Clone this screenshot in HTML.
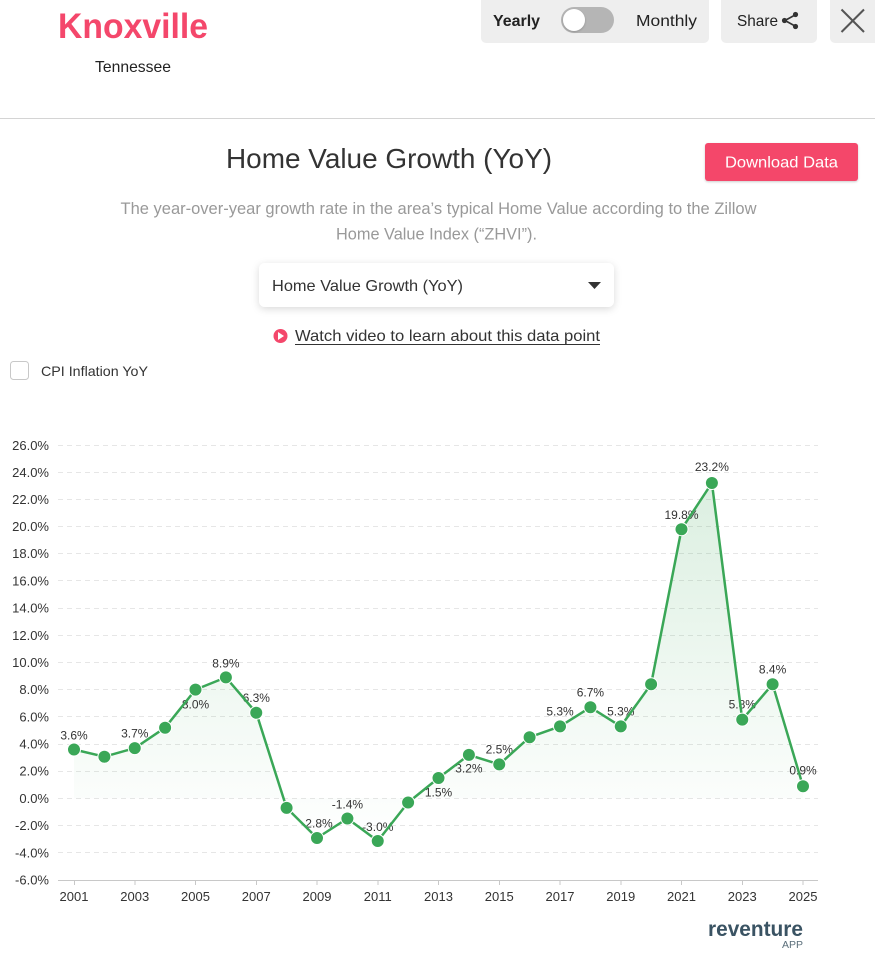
<!DOCTYPE html>
<html>
<head>
<meta charset="utf-8">
<style>
  html,body{margin:0;padding:0;background:#fff;}
  svg{display:block;}
  text{font-family:"Liberation Sans", sans-serif;}
</style>
</head>
<body>
<svg width="875" height="955" viewBox="0 0 875 955" xmlns="http://www.w3.org/2000/svg">
  <defs>
    <filter id="sh" x="-10%" y="-30%" width="120%" height="170%">
      <feDropShadow dx="0" dy="2" stdDeviation="4" flood-color="#000" flood-opacity="0.15"/>
    </filter>
    <filter id="sh2" x="-10%" y="-30%" width="120%" height="170%">
      <feDropShadow dx="0" dy="1" stdDeviation="1" flood-color="#000" flood-opacity="0.2"/>
    </filter>
    <linearGradient id="ag" gradientUnits="userSpaceOnUse" x1="0" y1="483" x2="0" y2="840">
      <stop offset="0" stop-color="#3aa757" stop-opacity="0.18"/>
      <stop offset="1" stop-color="#3aa757" stop-opacity="0.0"/>
    </linearGradient>
  </defs>

  <!-- Header -->
  <text x="58" y="38" font-size="35" font-weight="bold" fill="#f4476b" textLength="150" lengthAdjust="spacingAndGlyphs">Knoxville</text>
  <text x="95" y="72" font-size="16" fill="#222" textLength="76" lengthAdjust="spacingAndGlyphs">Tennessee</text>

  <!-- toggle -->
  <rect x="481" y="-6" width="228" height="49" rx="5" fill="#eeeeee"/>
  <text x="493" y="26" font-size="16" font-weight="bold" fill="#222" textLength="47" lengthAdjust="spacingAndGlyphs">Yearly</text>
  <rect x="561" y="7" width="53" height="26" rx="13" fill="#b5b5b5"/>
  <circle cx="574" cy="20" r="11" fill="#fff" filter="url(#sh2)"/>
  <text x="636" y="26" font-size="16" fill="#222" textLength="61" lengthAdjust="spacingAndGlyphs">Monthly</text>

  <!-- share -->
  <rect x="721" y="-6" width="96" height="49" rx="5" fill="#eeeeee"/>
  <text x="737" y="26" font-size="16" fill="#222" textLength="41" lengthAdjust="spacingAndGlyphs">Share</text>
  <g fill="#333" stroke="#333" stroke-width="1.6">
    <line x1="795" y1="15" x2="785" y2="20.5"/>
    <line x1="795" y1="26" x2="785" y2="20.5"/>
    <circle cx="795.5" cy="14.5" r="2.6" stroke="none"/>
    <circle cx="784.5" cy="20.5" r="2.6" stroke="none"/>
    <circle cx="795.5" cy="26.5" r="2.6" stroke="none"/>
  </g>

  <!-- close -->
  <rect x="830" y="-6" width="60" height="49" rx="5" fill="#eeeeee"/>
  <line x1="841.5" y1="9.5" x2="864" y2="32" stroke="#555" stroke-width="2"/>
  <line x1="864" y1="9.5" x2="841.5" y2="32" stroke="#555" stroke-width="2"/>

  <line x1="0" y1="118.5" x2="875" y2="118.5" stroke="#d4d4d4" stroke-width="1"/>

  <!-- Title -->
  <text x="226" y="168" font-size="28" fill="#333" textLength="326" lengthAdjust="spacingAndGlyphs">Home Value Growth (YoY)</text>

  <rect x="705" y="143" width="153" height="38" rx="3" fill="#f4476b" filter="url(#sh2)"/>
  <text x="725" y="167.5" font-size="16" fill="#fff" textLength="113" lengthAdjust="spacingAndGlyphs">Download Data</text>

  <text x="120.5" y="214" font-size="16.5" fill="#999" textLength="636" lengthAdjust="spacingAndGlyphs">The year-over-year growth rate in the area’s typical Home Value according to the Zillow</text>
  <text x="336" y="239.5" font-size="16.5" fill="#999" textLength="201" lengthAdjust="spacingAndGlyphs">Home Value Index (“ZHVI”).</text>

  <!-- dropdown -->
  <rect x="259" y="263" width="355" height="44" rx="6" fill="#fff" filter="url(#sh)"/>
  <text x="272" y="291" font-size="16" fill="#333" textLength="191" lengthAdjust="spacingAndGlyphs">Home Value Growth (YoY)</text>
  <polygon points="588,282 601,282 594.5,289" fill="#333"/>

  <!-- watch video -->
  <circle cx="280.5" cy="336" r="7" fill="#f4476b"/>
  <polygon points="278,332 278,340 284,336" fill="#fff"/>
  <text x="295" y="341" font-size="16" fill="#333" textLength="305" lengthAdjust="spacingAndGlyphs">Watch video to learn about this data point</text>
  <line x1="295" y1="344.5" x2="600" y2="344.5" stroke="#333" stroke-width="1"/>

  <!-- checkbox -->
  <rect x="10.5" y="361.5" width="18" height="18" rx="3" fill="#fff" stroke="#c8c8c8" stroke-width="1"/>
  <text x="41" y="376" font-size="14" fill="#333" textLength="107" lengthAdjust="spacingAndGlyphs">CPI Inflation YoY</text>

  <!-- Chart grid -->
  <g stroke="#e6e6e6" stroke-width="1" stroke-dasharray="5 4">
    <line x1="58" y1="445.5" x2="818" y2="445.5"/>
    <line x1="58" y1="472.5" x2="818" y2="472.5"/>
    <line x1="58" y1="499.5" x2="818" y2="499.5"/>
    <line x1="58" y1="526.5" x2="818" y2="526.5"/>
    <line x1="58" y1="553.5" x2="818" y2="553.5"/>
    <line x1="58" y1="580.5" x2="818" y2="580.5"/>
    <line x1="58" y1="608.5" x2="818" y2="608.5"/>
    <line x1="58" y1="635.5" x2="818" y2="635.5"/>
    <line x1="58" y1="662.5" x2="818" y2="662.5"/>
    <line x1="58" y1="689.5" x2="818" y2="689.5"/>
    <line x1="58" y1="716.5" x2="818" y2="716.5"/>
    <line x1="58" y1="744.5" x2="818" y2="744.5"/>
    <line x1="58" y1="771.5" x2="818" y2="771.5"/>
    <line x1="58" y1="798.5" x2="818" y2="798.5"/>
    <line x1="58" y1="825.5" x2="818" y2="825.5"/>
    <line x1="58" y1="852.5" x2="818" y2="852.5"/>
  </g>
  <line x1="58" y1="880.5" x2="818" y2="880.5" stroke="#c8c8c8" stroke-width="1"/>
  <g stroke="#c8c8c8" stroke-width="1">
    <line x1="74.5" y1="880" x2="74.5" y2="885"/>
    <line x1="135" y1="880" x2="135" y2="885"/>
    <line x1="195.5" y1="880" x2="195.5" y2="885"/>
    <line x1="256.5" y1="880" x2="256.5" y2="885"/>
    <line x1="317" y1="880" x2="317" y2="885"/>
    <line x1="378" y1="880" x2="378" y2="885"/>
    <line x1="438.5" y1="880" x2="438.5" y2="885"/>
    <line x1="499.5" y1="880" x2="499.5" y2="885"/>
    <line x1="560" y1="880" x2="560" y2="885"/>
    <line x1="621" y1="880" x2="621" y2="885"/>
    <line x1="681.5" y1="880" x2="681.5" y2="885"/>
    <line x1="742.5" y1="880" x2="742.5" y2="885"/>
    <line x1="803" y1="880" x2="803" y2="885"/>
  </g>

  <!-- Y labels -->
  <g font-size="13" fill="#333" text-anchor="end">
    <text x="49" y="450">26.0%</text>
    <text x="49" y="477">24.0%</text>
    <text x="49" y="504">22.0%</text>
    <text x="49" y="531">20.0%</text>
    <text x="49" y="558">18.0%</text>
    <text x="49" y="585.5">16.0%</text>
    <text x="49" y="612.5">14.0%</text>
    <text x="49" y="640">12.0%</text>
    <text x="49" y="667">10.0%</text>
    <text x="49" y="694">8.0%</text>
    <text x="49" y="721.5">6.0%</text>
    <text x="49" y="748.5">4.0%</text>
    <text x="49" y="775.5">2.0%</text>
    <text x="49" y="803">0.0%</text>
    <text x="49" y="830">-2.0%</text>
    <text x="49" y="857.5">-4.0%</text>
    <text x="49" y="884.5">-6.0%</text>
  </g>

  <!-- X labels -->
  <g font-size="13" fill="#333" text-anchor="middle">
    <text x="74" y="901">2001</text>
    <text x="134.75" y="901">2003</text>
    <text x="195.5" y="901">2005</text>
    <text x="256.25" y="901">2007</text>
    <text x="317" y="901">2009</text>
    <text x="377.75" y="901">2011</text>
    <text x="438.5" y="901">2013</text>
    <text x="499.25" y="901">2015</text>
    <text x="560" y="901">2017</text>
    <text x="620.75" y="901">2019</text>
    <text x="681.5" y="901">2021</text>
    <text x="742.25" y="901">2023</text>
    <text x="803" y="901">2025</text>
  </g>

  <!-- Area -->
  <polygon fill="url(#ag)" points="74,749.5 104.4,756.7 134.75,748.1 165.1,727.7 195.5,689.6 225.9,677.4 256.25,712.8 286.6,807.9 317,838 347.4,818.5 377.75,841 408.1,802.5 438.5,778 468.9,754.9 499.25,764.4 529.6,737.2 560,726.4 590.4,707.3 620.75,726.4 651.1,684.2 681.5,529.2 711.9,483 742.25,719.6 772.6,684.2 803,786.2 803,798.4 74,798.4"/>

  <!-- Data labels (under line) -->
  <g font-size="12" fill="#333" text-anchor="middle">
    <text x="74" y="739.5">3.6%</text>
    <text x="134.75" y="737.5">3.7%</text>
    <text x="195.5" y="708.5">8.0%</text>
    <text x="225.9" y="667.5">8.9%</text>
    <text x="256.25" y="702">6.3%</text>
    <text x="317" y="827.5">-2.8%</text>
    <text x="347.4" y="808.5">-1.4%</text>
    <text x="377.75" y="831">-3.0%</text>
    <text x="438.5" y="796.5">1.5%</text>
    <text x="468.9" y="772.5">3.2%</text>
    <text x="499.25" y="753.5">2.5%</text>
    <text x="560" y="715.5">5.3%</text>
    <text x="590.4" y="696.5">6.7%</text>
    <text x="620.75" y="715.5">5.3%</text>
    <text x="681.5" y="519">19.8%</text>
    <text x="711.9" y="471">23.2%</text>
    <text x="742.25" y="708.5">5.8%</text>
    <text x="772.6" y="673.5">8.4%</text>
    <text x="803" y="774.5">0.9%</text>
  </g>

  <!-- Line -->
  <polyline fill="none" stroke="#3aa757" stroke-width="2.5" stroke-linejoin="round" points="74,749.5 104.4,756.7 134.75,748.1 165.1,727.7 195.5,689.6 225.9,677.4 256.25,712.8 286.6,807.9 317,838 347.4,818.5 377.75,841 408.1,802.5 438.5,778 468.9,754.9 499.25,764.4 529.6,737.2 560,726.4 590.4,707.3 620.75,726.4 651.1,684.2 681.5,529.2 711.9,483 742.25,719.6 772.6,684.2 803,786.2"/>

  <!-- Markers -->
  <g fill="#3aa757" stroke="#fff" stroke-width="1">
    <circle cx="74" cy="749.5" r="6.5"/>
    <circle cx="104.4" cy="756.7" r="6.5"/>
    <circle cx="134.75" cy="748.1" r="6.5"/>
    <circle cx="165.1" cy="727.7" r="6.5"/>
    <circle cx="195.5" cy="689.6" r="6.5"/>
    <circle cx="225.9" cy="677.4" r="6.5"/>
    <circle cx="256.25" cy="712.8" r="6.5"/>
    <circle cx="286.6" cy="807.9" r="6.5"/>
    <circle cx="317" cy="838" r="6.5"/>
    <circle cx="347.4" cy="818.5" r="6.5"/>
    <circle cx="377.75" cy="841" r="6.5"/>
    <circle cx="408.1" cy="802.5" r="6.5"/>
    <circle cx="438.5" cy="778" r="6.5"/>
    <circle cx="468.9" cy="754.9" r="6.5"/>
    <circle cx="499.25" cy="764.4" r="6.5"/>
    <circle cx="529.6" cy="737.2" r="6.5"/>
    <circle cx="560" cy="726.4" r="6.5"/>
    <circle cx="590.4" cy="707.3" r="6.5"/>
    <circle cx="620.75" cy="726.4" r="6.5"/>
    <circle cx="651.1" cy="684.2" r="6.5"/>
    <circle cx="681.5" cy="529.2" r="6.5"/>
    <circle cx="711.9" cy="483" r="6.5"/>
    <circle cx="742.25" cy="719.6" r="6.5"/>
    <circle cx="772.6" cy="684.2" r="6.5"/>
    <circle cx="803" cy="786.2" r="6.5"/>
  </g>

  <!-- Logo -->
  <text x="708" y="936" font-size="21" font-weight="bold" fill="#3a5363" textLength="95" lengthAdjust="spacingAndGlyphs">reventure</text>
  <text x="782" y="948" font-size="10" fill="#5a6e7a" textLength="21" lengthAdjust="spacingAndGlyphs">APP</text>
</svg>
</body>
</html>
